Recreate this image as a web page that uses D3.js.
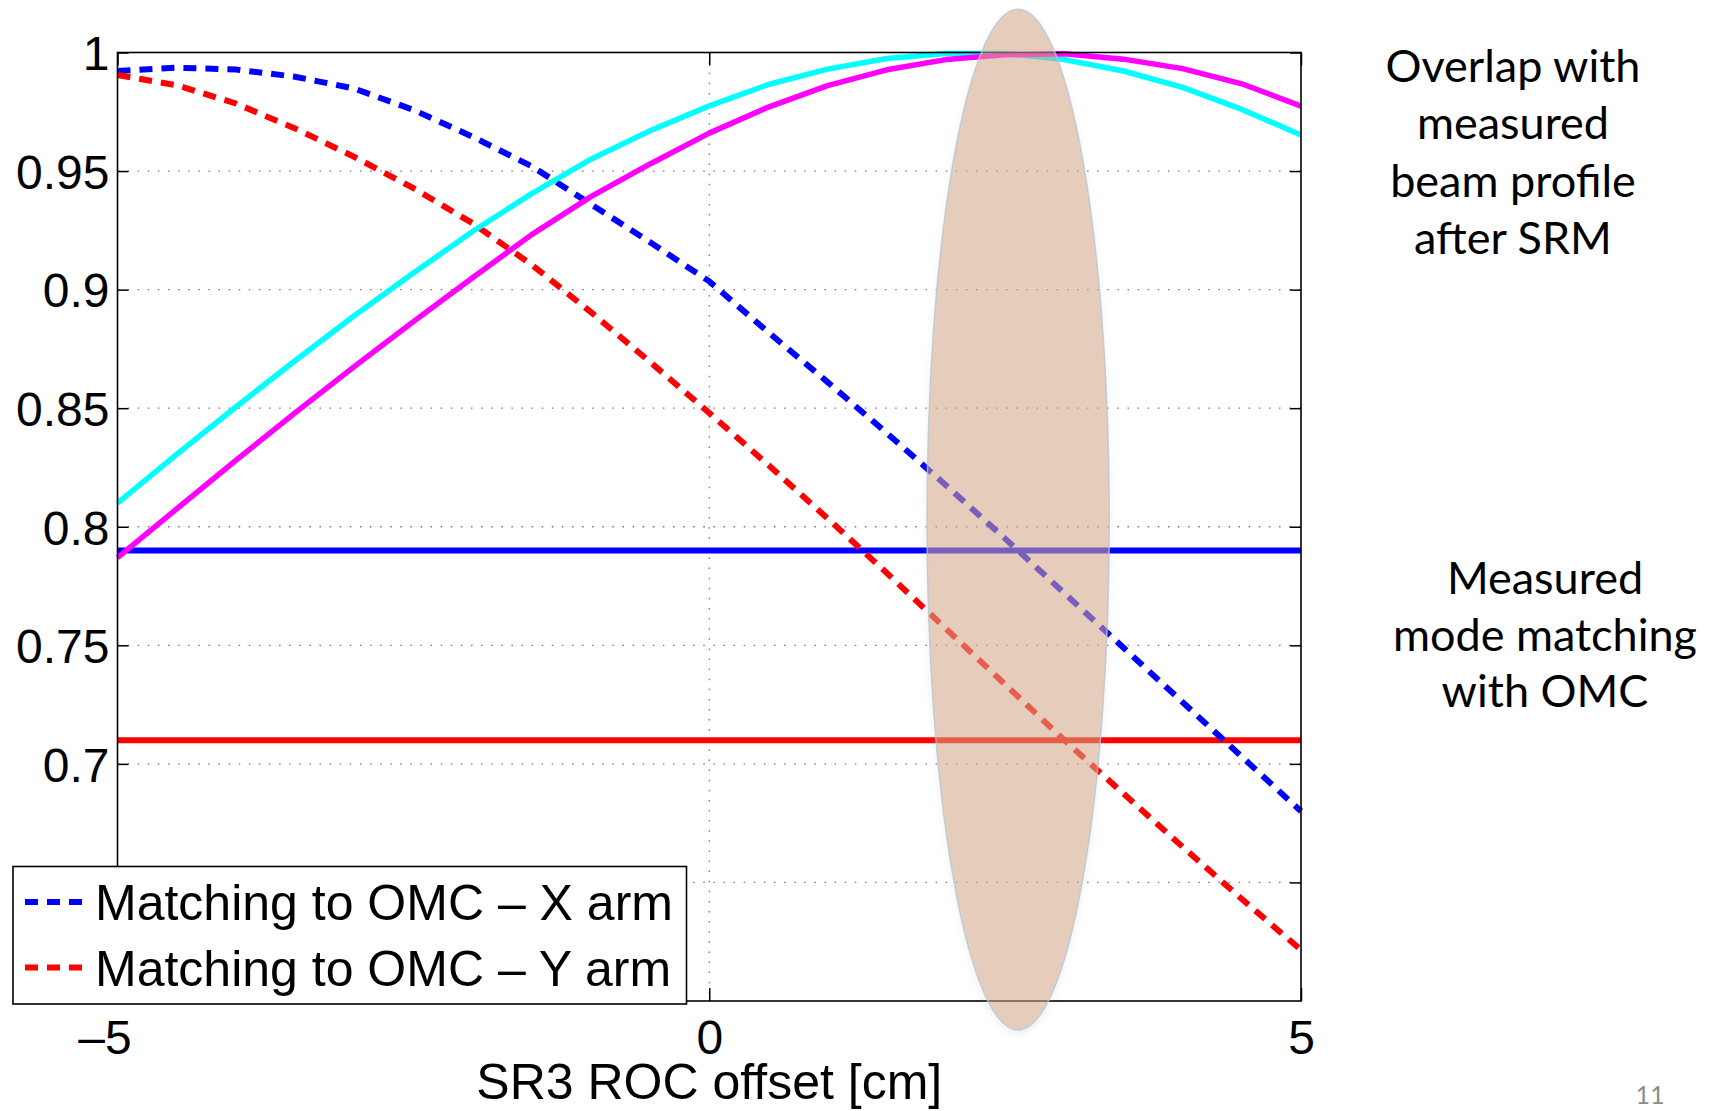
<!DOCTYPE html>
<html>
<head>
<meta charset="utf-8">
<script src="https://cdn.jsdelivr.net/npm/d3@7"></script>
<style>
  html, body { margin: 0; padding: 0; background: #fff; }
  svg { display: block; }
</style>
</head>
<body>
<svg id="chart" width="1714" height="1111"></svg>
<script>
// ---------------- data ----------------
const xValues = [-5, -4.5, -4, -3.5, -3, -2.5, -2, -1.5, -1, -0.5, 0, 0.5, 1, 1.5, 2, 2.5, 3, 3.5, 4, 4.5, 5];
const overlapCyan    = [0.810, 0.8305, 0.8505, 0.870, 0.889, 0.907, 0.9245, 0.9405, 0.955, 0.967, 0.9775, 0.9865, 0.993, 0.9975, 0.9996, 0.9996, 0.997, 0.9922, 0.9853, 0.976, 0.9652];
const overlapMagenta = [0.787, 0.8075, 0.828, 0.848, 0.8675, 0.8865, 0.905, 0.9232, 0.9392, 0.953, 0.966, 0.977, 0.986, 0.9927, 0.997, 0.999, 0.9995, 0.9972, 0.9932, 0.9868, 0.9774];
const matchXarm      = [0.9922, 0.9936, 0.9928, 0.9898, 0.9848, 0.9758, 0.9645, 0.952, 0.936, 0.920, 0.9035, 0.882, 0.861, 0.8395, 0.8175, 0.795, 0.772, 0.749, 0.726, 0.703, 0.680];
const matchYarm      = [0.9905, 0.9862, 0.9785, 0.968, 0.956, 0.9428, 0.928, 0.9105, 0.8905, 0.8695, 0.848, 0.826, 0.8035, 0.7805, 0.757, 0.7335, 0.710, 0.6875, 0.665, 0.643, 0.6215];
const measuredXarm = 0.79;
const measuredYarm = 0.71;

const xDomain = [-5, 5];
const yDomain = [0.6, 1];
const xTicks = [-5, 0, 5];
const xTickLabels = ["\u20135", "0", "5"];
const yGridTicks = [0.65, 0.7, 0.75, 0.8, 0.85, 0.9, 0.95, 1];
const yLabelTicks = [0.7, 0.75, 0.8, 0.85, 0.9, 0.95, 1];
const yTickLabels = ["0.7", "0.75", "0.8", "0.85", "0.9", "0.95", "1"];

const xLabel = "SR3 ROC offset [cm]";
const legendLabels = ["Matching to OMC \u2013 X arm", "Matching to OMC \u2013 Y arm"];
const noteTop = ["Overlap with", "measured", "beam profile", "after SRM"];
const noteBottom = ["Measured", "mode matching", "with OMC"];
const pageNumber = "11";

// highlighted region (data units)
const highlight = { cx: 2.61, cy: 0.803, rx: 0.77, ry: 0.2152 };

// ---------------- layout ----------------
const svg = d3.select("#chart");
const L = 117.5, R = 1301, T = 52.5, B = 1001;
const x = d3.scaleLinear().domain(xDomain).range([L, R]);
const y = d3.scaleLinear().domain(yDomain).range([B, T]);
const tickFont = "'Liberation Sans', Arial, Helvetica, sans-serif";
const noteFont = "Lato, 'Open Sans', sans-serif";

svg.append("rect").attr("width", 1714).attr("height", 1111).attr("fill", "#fff");

// shadow only outside the shape (so it does not tint the translucent fill)
const defs = svg.append("defs");
const f = defs.append("filter").attr("id", "shadow").attr("x", "-30%").attr("y", "-10%").attr("width", "160%").attr("height", "120%");
f.append("feGaussianBlur").attr("in", "SourceAlpha").attr("stdDeviation", 3).attr("result", "blur");
f.append("feOffset").attr("in", "blur").attr("dx", 0).attr("dy", 4).attr("result", "off");
f.append("feComposite").attr("in", "off").attr("in2", "SourceAlpha").attr("operator", "out").attr("result", "outer");
f.append("feColorMatrix").attr("in", "outer").attr("type", "matrix")
  .attr("values", "0 0 0 0 0.35  0 0 0 0 0.35  0 0 0 0 0.35  0 0 0 0.25 0").attr("result", "shadowCol");
const merge = f.append("feMerge");
merge.append("feMergeNode").attr("in", "shadowCol");
merge.append("feMergeNode").attr("in", "SourceGraphic");

// grid
const grid = svg.append("g");
grid.selectAll("line.hy").data(yGridTicks.filter(v => v < 1)).join("line")
  .attr("x1", L).attr("x2", R).attr("y1", d => y(d)).attr("y2", d => y(d))
  .attr("stroke", "#777").attr("stroke-width", 1.3).attr("stroke-dasharray", "1.5,8.6");
grid.append("line")
  .attr("x1", x(0)).attr("x2", x(0)).attr("y1", T).attr("y2", B)
  .attr("stroke", "#777").attr("stroke-width", 1.3).attr("stroke-dasharray", "1.5,8.6");

// axes (ticks inward on all four sides)
const axisG = svg.append("g");
const leftAxis = d3.axisLeft(y).tickValues(yGridTicks).tickSize(-11).tickFormat("");
const rightAxis = d3.axisRight(y).tickValues(yGridTicks).tickSize(-11).tickFormat("");
const bottomAxis = d3.axisBottom(x).tickValues(xTicks).tickSize(-13).tickFormat("");
const topAxis = d3.axisTop(x).tickValues(xTicks).tickSize(-13).tickFormat("");
[[leftAxis, `translate(${L},0)`], [rightAxis, `translate(${R},0)`], [bottomAxis, `translate(0,${B})`], [topAxis, `translate(0,${T})`]]
  .forEach(([ax, tr]) => {
    const g = axisG.append("g").attr("transform", tr).call(ax);
    g.select(".domain").remove();
    g.selectAll("line").attr("stroke", "#000").attr("stroke-width", 1.5);
  });

// tick labels
const yLab = d3.axisLeft(y).tickValues(yLabelTicks).tickSize(0).tickPadding(8)
  .tickFormat((d, i) => yTickLabels[i]);
const yl = svg.append("g").attr("transform", `translate(${L},0)`).call(yLab);
yl.select(".domain").remove();
yl.selectAll("text").attr("font-family", tickFont).attr("font-size", 48).attr("fill", "#000").attr("dy", "0.36em");

const xLab = d3.axisBottom(x).tickValues(xTicks).tickSize(0).tickPadding(0)
  .tickFormat((d, i) => xTickLabels[i]);
const xl = svg.append("g").attr("transform", `translate(0,${B})`).call(xLab);
xl.select(".domain").remove();
xl.selectAll("text").attr("font-family", tickFont).attr("font-size", 48).attr("fill", "#000")
  .attr("y", 53).attr("dy", 0).attr("dx", (d, i) => i === 0 ? -13 : 0);

svg.append("text").attr("x", (L + R) / 2).attr("y", 1099).attr("text-anchor", "middle")
  .attr("font-family", tickFont).attr("font-size", 50).text(xLabel);

// series
const line = d3.line().x((d, i) => x(xValues[i])).y(d => y(d));
const plot = svg.append("g");
plot.append("line").attr("x1", x(xDomain[0])).attr("x2", x(xDomain[1]))
  .attr("y1", y(measuredXarm)).attr("y2", y(measuredXarm))
  .attr("stroke", "#0000ff").attr("stroke-width", 6);
plot.append("line").attr("x1", x(xDomain[0])).attr("x2", x(xDomain[1]))
  .attr("y1", y(measuredYarm)).attr("y2", y(measuredYarm))
  .attr("stroke", "#ff0000").attr("stroke-width", 6);
plot.append("path").datum(matchXarm).attr("d", line).attr("fill", "none")
  .attr("stroke", "#0000ff").attr("stroke-width", 6).attr("stroke-dasharray", "13,9");
plot.append("path").datum(matchYarm).attr("d", line).attr("fill", "none")
  .attr("stroke", "#ff0000").attr("stroke-width", 6).attr("stroke-dasharray", "13,9");
plot.append("path").datum(overlapCyan).attr("d", line).attr("fill", "none")
  .attr("stroke", "#00ffff").attr("stroke-width", 5.5).attr("stroke-linejoin", "round");
plot.append("path").datum(overlapMagenta).attr("d", line).attr("fill", "none")
  .attr("stroke", "#ff00ff").attr("stroke-width", 5.5).attr("stroke-linejoin", "round");

// axes box
svg.append("rect").attr("x", L).attr("y", T).attr("width", R - L).attr("height", B - T)
  .attr("fill", "none").attr("stroke", "#000").attr("stroke-width", 1.6);

// highlight ellipse
svg.append("ellipse")
  .attr("cx", x(highlight.cx)).attr("cy", y(highlight.cy))
  .attr("rx", x(highlight.cx + highlight.rx) - x(highlight.cx))
  .attr("ry", y(highlight.cy - highlight.ry) - y(highlight.cy))
  .attr("fill", "rgb(212,166,133)").attr("fill-opacity", 0.54)
  .attr("stroke", "rgb(180,198,218)").attr("stroke-width", 1.5).attr("stroke-opacity", 0.8)
  .attr("filter", "url(#shadow)");

// legend
const lg = svg.append("g");
lg.append("rect").attr("x", 13).attr("y", 866.5).attr("width", 673.5).attr("height", 137.5)
  .attr("fill", "#fff").attr("stroke", "#000").attr("stroke-width", 1.6);
const legendColors = ["#0000ff", "#ff0000"];
legendLabels.forEach((lab, i) => {
  const yy = 902 + i * 65.5;
  lg.append("line").attr("x1", 25).attr("x2", 87).attr("y1", yy).attr("y2", yy)
    .attr("stroke", legendColors[i]).attr("stroke-width", 6).attr("stroke-dasharray", "13,9");
  lg.append("text").attr("x", 95).attr("y", yy + 18).attr("font-family", tickFont)
    .attr("font-size", 50).text(lab);
});

// annotations
noteTop.forEach((t, i) => {
  svg.append("text").attr("x", 1513).attr("y", 82 + i * 57.3).attr("text-anchor", "middle")
    .attr("font-family", noteFont).attr("font-size", 45).attr("fill", "#000").text(t);
});
noteBottom.forEach((t, i) => {
  svg.append("text").attr("x", 1545).attr("y", 594 + i * 56.5).attr("text-anchor", "middle")
    .attr("font-family", noteFont).attr("font-size", 45).attr("fill", "#000").text(t);
});
svg.append("text").attr("x", 1650).attr("y", 1104).attr("text-anchor", "middle")
  .attr("font-family", noteFont).attr("font-size", 25).attr("fill", "#8c8c8c").text(pageNumber);
</script>
</body>
</html>
